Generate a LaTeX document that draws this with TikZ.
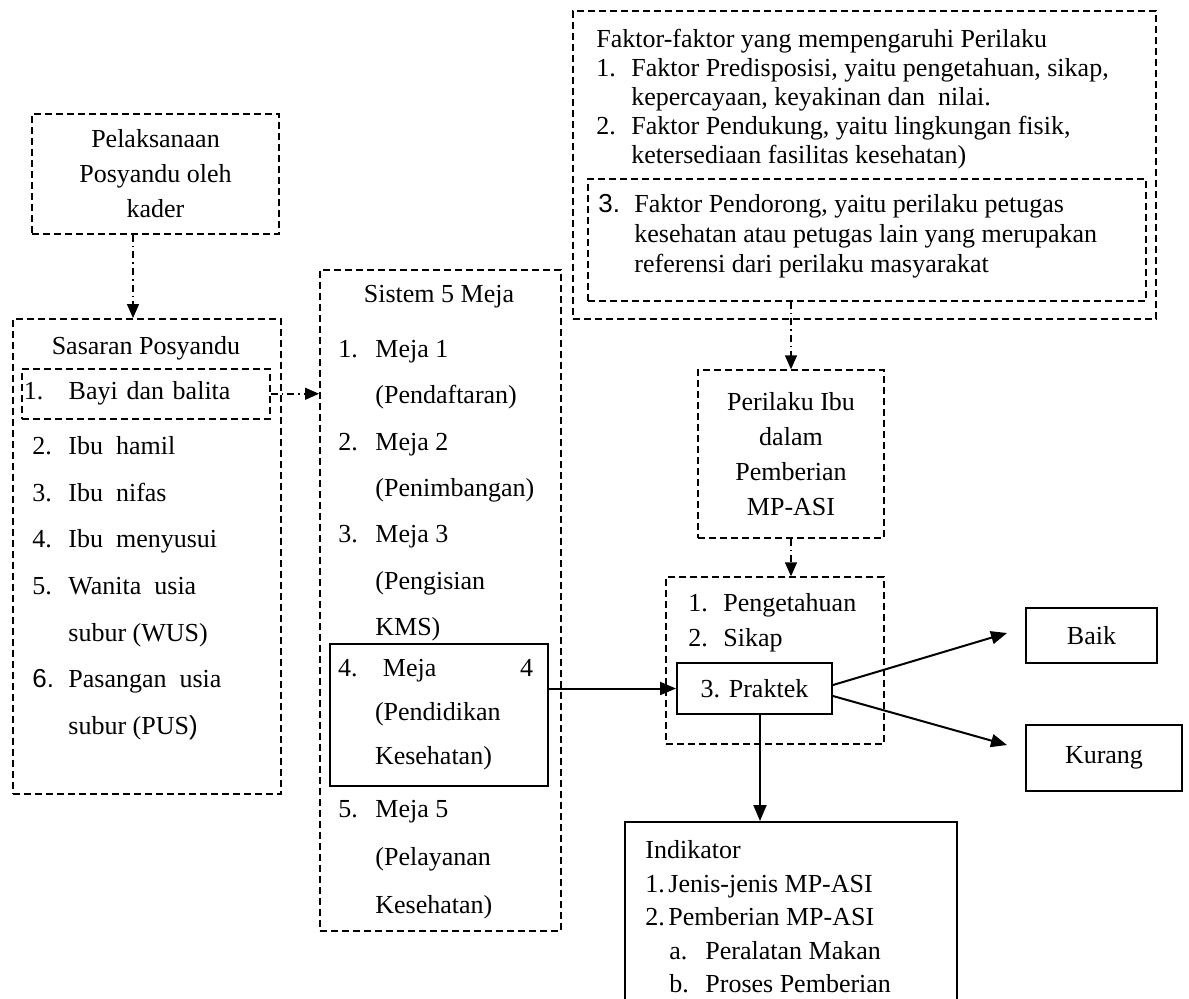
\documentclass[tikz,border=0pt]{standalone}
\usepackage{fontspec}
\setmainfont{Liberation Serif}
\setsansfont{Liberation Sans}
\usepackage{tikz}
\usetikzlibrary{positioning,arrows.meta,calc}
\newcommand{\numcol}[2][18pt]{\makebox[#1][l]{#2}}
\tikzset{
  dbox/.style     = {draw, line width=0.75pt, dash pattern=on 3.5pt off 2pt, inner sep=0pt},
  sbox/.style     = {draw, line width=1pt, inner sep=0pt},
  txt/.style      = {inner sep=0pt, align=left, anchor=north west},
  arrow/.style    = {-{Triangle[length=8pt,width=6.5pt]}, line width=1pt},
  dotarrow/.style = {-{Triangle[length=7pt,width=6pt]}, line width=0.75pt,
                     dash pattern=on 3.5pt off 2pt on 0.8pt off 2pt},
}

\begin{document}
\begin{tikzpicture}[x=0.5pt, y=-0.5pt, font=\fontsize{13}{16}\selectfont]
  \useasboundingbox (0,0) rectangle (1189,998);

  % left column
  \node[dbox, minimum width=123.5pt, minimum height=60pt, align=center,
        font=\fontsize{13}{17.5}\selectfont] (kader) at (155.5,174)
        {Pelaksanaan\\ Posyandu oleh\\ kader};
  \node[dbox, anchor=north west, minimum width=134pt, minimum height=237.5pt] (sasaran) at (12,318) {};
  \node (sasarantitle) at (146,348) {Sasaran Posyandu};
  \node[dbox, anchor=north west, text width=122pt, inner xsep=1pt, minimum height=25pt,
        align=left] (bayi) at (21,368) {\numcol[22.5pt]{1.}Bayi dan balita};
  \node[txt, font=\fontsize{13}{23.33}\selectfont] (sasaranlist) at (32,436)
    {\numcol{2.}Ibu\ \ hamil\\ \numcol{3.}Ibu\ \ nifas\\ \numcol{4.}Ibu\ \ menyusui\\
     \numcol{5.}Wanita\ \ usia\\ \numcol{}subur (WUS)\\
     \numcol{\textsf{6.}}Pasangan\ \ usia\\ \numcol{}subur (PUS\textsf{)}};

  % sistem 5 meja
  \node[dbox, anchor=north west, minimum width=120.5pt, minimum height=330.5pt] (meja) at (319,269) {};
  \node (mejatitle) at (439,297) {Sistem 5 Meja};
  \node[txt, font=\fontsize{13}{23.17}\selectfont] (mejalist) at (338,340)
    {\numcol[18.5pt]{1.}Meja 1\\ \numcol[18.5pt]{}(Pendaftaran)\\
     \numcol[18.5pt]{2.}Meja 2\\ \numcol[18.5pt]{}(Penimbangan)\\
     \numcol[18.5pt]{3.}Meja 3\\ \numcol[18.5pt]{}(Pengisian\\ \numcol[18.5pt]{}KMS)};
  \node[sbox, minimum width=109pt, minimum height=71pt, text width=101pt, inner xsep=4pt,
        align=left, font=\fontsize{13}{22}\selectfont] (meja4) at (439,715)
    {\makebox[91pt][l]{\numcol[22.5pt]{4.}Meja}4\\ \numcol[18.5pt]{}(Pendidikan\\
     \numcol[18.5pt]{}Kesehatan)};
  \node[txt, font=\fontsize{13}{24}\selectfont] (mejalist2) at (338,800)
    {\numcol[18.5pt]{5.}Meja 5\\ \numcol[18.5pt]{}(Pelayanan\\ \numcol[18.5pt]{}Kesehatan)};

  % faktor perilaku
  \node[dbox, anchor=north west, minimum width=291.5pt, minimum height=154pt] (faktor) at (572,10) {};
  \node[dbox, anchor=north west, minimum width=279pt, minimum height=61pt] (pendorong) at (587,178) {};
  \node[txt, font=\fontsize{13}{14.5}\selectfont] (faktortext) at (596,29)
    {Faktor-faktor yang mempengaruhi Perilaku\\
     \numcol[17.5pt]{1.}Faktor Predisposisi, yaitu pengetahuan, sikap,\\
     \numcol[17.5pt]{}kepercayaan, keyakinan dan\ \ nilai.\\
     \numcol[17.5pt]{2.}Faktor Pendukung, yaitu lingkungan fisik,\\
     \numcol[17.5pt]{}ketersediaan fasilitas kesehatan)};
  \node[txt, font=\fontsize{13}{15}\selectfont] (pendorongtext) at (598,194)
    {\numcol{\textsf{3.}}Faktor Pendorong, yaitu perilaku petugas\\
     \numcol{}kesehatan atau petugas lain yang merupakan\\
     \numcol{}referensi dari perilaku masyarakat};

  % perilaku ibu
  \node[dbox, minimum width=93pt, minimum height=84pt, align=center,
        font=\fontsize{13}{17.5}\selectfont] (perilaku) at (791,454)
        {Perilaku Ibu\\ dalam\\ Pemberian\\ MP-ASI};
  \node[dbox, minimum width=109pt, minimum height=83.5pt] (peng) at (775,660.5) {};
  \node[txt, font=\fontsize{13}{17.5}\selectfont] (pengtext) at (688,593)
    {\numcol[17.5pt]{1.}Pengetahuan\\ \numcol[17.5pt]{2.}Sikap};
  \node[sbox, minimum width=77.5pt, minimum height=25.5pt] (praktek) at (754.5,688.5) {3. Praktek};
  \node[sbox, minimum width=65.5pt, minimum height=27.5pt] (baik) at (1091.5,635.5) {Baik};
  \node[sbox, minimum width=78pt, minimum height=33pt] (kurang) at (1104,758) {Kurang};

  % indikator
  \node[sbox, anchor=north west, minimum width=166pt, minimum height=94.5pt] (indikator) at (624,821) {};
  \node[txt, font=\fontsize{13}{16.8}\selectfont] (indikatortext) at (645,840)
    {Indikator\\ \numcol[11.5pt]{1.}Jenis-jenis MP-ASI\\ \numcol[11.5pt]{2.}Pemberian MP-ASI\\
     \hspace*{12pt}\numcol{a.}Peralatan Makan\\ \hspace*{12pt}\numcol{b.}Proses Pemberian};

  % connectors
  \draw[dotarrow] ([xshift=-11.25pt]kader.south) -- ([xshift=-11.25pt]kader.south |- sasaran.north);
  \draw[dotarrow] (bayi.east) -- (bayi.east -| meja.west);
  \draw[dotarrow] (pendorong.south -| perilaku.north) -- (perilaku.north);
  \draw[dotarrow] (perilaku.south) -- (perilaku.south |- peng.north);
  \draw[arrow] (meja4.east |- praktek.west) -- (praktek.west);
  \draw[arrow] ([yshift=1.75pt]praktek.east) -- ([xshift=-9pt,yshift=1.25pt]baik.west);
  \draw[arrow] ([yshift=-3.75pt]praktek.east) -- ([xshift=-9pt,yshift=6.5pt]kurang.west);
  \draw[arrow] ([xshift=2.75pt]praktek.south) -- ([xshift=2.75pt]praktek.south |- indikator.north);
\end{tikzpicture}
\end{document}
